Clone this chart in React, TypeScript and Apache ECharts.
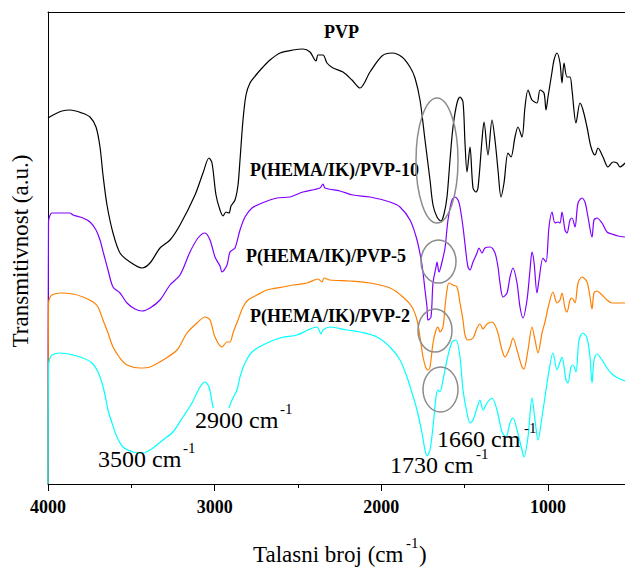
import React, { useEffect, useRef } from 'react';
import * as echarts from 'echarts';

const FONT = 'Liberation Serif, Times New Roman, Times, serif';

const xMajorTicks = [4000, 3000, 2000, 1000];
const xMinorTicks = [3500, 2500, 1500];
const seriesNames = ['PVP', 'P(HEMA/IK)/PVP-10', 'P(HEMA/IK)/PVP-5', 'P(HEMA/IK)/PVP-2'];
const seriesColors = ['#000000', '#8000ff', '#ff8000', '#00ffff'];

// [wavenumber (cm-1), transmittance (a.u.)]
const pvp: [number, number][] = [
  [4000, 366], [3958, 370], [3916, 373], [3868, 374], [3796, 371], [3748, 367], [3712, 357],
  [3688, 337], [3670, 309], [3646, 279], [3610, 251], [3568, 231], [3508, 222], [3436, 216],
  [3388, 221], [3328, 236], [3268, 244], [3208, 259], [3118, 289], [3070, 311], [3034, 326],
  [3016, 321], [2992, 289], [2968, 274], [2950, 268], [2932, 272], [2914, 271], [2902, 278],
  [2878, 284], [2860, 299], [2848, 324], [2830, 364], [2812, 389], [2788, 401], [2752, 409],
  [2710, 417], [2668, 424], [2608, 431], [2530, 434], [2470, 435], [2428, 432], [2392, 423],
  [2380, 429], [2350, 429], [2326, 421], [2290, 416], [2230, 412], [2176, 404], [2128, 396],
  [2068, 412], [1996, 428], [1936, 431], [1876, 427], [1828, 417], [1798, 406], [1768, 384],
  [1738, 344], [1708, 304], [1690, 279], [1666, 267], [1642, 263], [1624, 270], [1606, 287],
  [1588, 324], [1570, 357], [1546, 381], [1528, 387], [1510, 382], [1498, 341], [1486, 312],
  [1468, 337], [1450, 296], [1432, 292], [1420, 296], [1396, 344], [1384, 362], [1360, 329],
  [1336, 364], [1318, 344], [1300, 314], [1282, 287], [1264, 301], [1240, 331], [1222, 327],
  [1198, 347], [1180, 357], [1156, 347], [1138, 377], [1120, 394], [1096, 384], [1066, 381],
  [1048, 394], [1024, 391], [1012, 374], [1000, 387], [976, 412], [964, 424], [946, 431],
  [928, 421], [916, 401], [904, 421], [886, 407], [868, 407], [856, 394], [832, 361],
  [808, 381], [790, 374], [766, 357], [742, 337], [718, 329], [700, 336], [670, 327],
  [640, 317], [610, 322], [586, 321], [568, 317], [538, 321],
];

const pvp10: [number, number][] = [
  [4000, 0], [3997, 262], [3990, 268], [3976, 271], [3928, 271], [3868, 271], [3850, 269],
  [3790, 266], [3748, 262], [3712, 254], [3688, 244], [3664, 229], [3640, 214], [3610, 197],
  [3568, 191], [3526, 181], [3478, 175], [3436, 173], [3388, 176], [3328, 184], [3268, 199],
  [3208, 209], [3148, 232], [3100, 246], [3058, 251], [3028, 244], [2998, 227], [2968, 218],
  [2956, 212], [2926, 219], [2908, 232], [2878, 236], [2848, 254], [2818, 267], [2776, 276],
  [2716, 281], [2626, 286], [2548, 287], [2470, 292], [2368, 296], [2350, 300], [2338, 296],
  [2248, 293], [2170, 289], [2068, 287], [1948, 282], [1888, 277], [1828, 264], [1786, 244],
  [1756, 219], [1738, 194], [1726, 177], [1720, 164], [1702, 167], [1690, 201], [1672, 217],
  [1666, 222], [1654, 212], [1636, 222], [1618, 236], [1600, 264], [1576, 284], [1558, 287],
  [1540, 284], [1528, 277], [1510, 257], [1492, 231], [1480, 217], [1468, 214], [1450, 222],
  [1426, 231], [1414, 236], [1396, 231], [1378, 236], [1348, 237], [1318, 231], [1300, 217],
  [1288, 201], [1270, 187], [1246, 191], [1228, 207], [1210, 216], [1186, 201], [1168, 177],
  [1150, 166], [1126, 184], [1108, 214], [1096, 232], [1084, 222], [1066, 191], [1054, 204],
  [1030, 226], [1012, 222], [994, 257], [976, 272], [958, 261], [940, 262], [928, 261],
  [916, 272], [898, 254], [886, 251], [868, 264], [856, 266], [838, 257], [820, 281],
  [796, 286], [778, 282], [760, 267], [736, 247], [724, 264], [706, 266], [676, 261],
  [646, 252], [616, 250], [580, 248], [538, 247],
];

const pvp5: [number, number][] = [
  [4000, 0], [3997, 180], [3990, 186], [3976, 189], [3928, 191], [3850, 190], [3790, 187],
  [3730, 182], [3700, 177], [3670, 164], [3640, 151], [3610, 137], [3568, 126], [3526, 119],
  [3448, 116], [3388, 117], [3310, 124], [3226, 134], [3166, 151], [3106, 161], [3058, 167],
  [3028, 164], [2998, 147], [2956, 137], [2926, 142], [2908, 142], [2890, 151], [2860, 164],
  [2830, 177], [2800, 184], [2746, 189], [2686, 194], [2590, 197], [2530, 199], [2446, 201],
  [2380, 205], [2356, 202], [2344, 206], [2308, 204], [2188, 203], [2068, 201], [1948, 196],
  [1870, 187], [1816, 177], [1786, 164], [1768, 147], [1750, 127], [1732, 116], [1720, 114],
  [1708, 117], [1690, 141], [1672, 154], [1660, 157], [1648, 152], [1630, 157], [1618, 177],
  [1606, 194], [1594, 201], [1570, 199], [1546, 197], [1528, 181], [1510, 164], [1498, 149],
  [1480, 144], [1450, 146], [1426, 156], [1408, 160], [1390, 155], [1366, 160], [1336, 162],
  [1306, 154], [1276, 134], [1258, 127], [1228, 137], [1210, 146], [1186, 134], [1156, 117],
  [1144, 115], [1120, 134], [1096, 157], [1078, 144], [1060, 131], [1036, 151], [1018, 162],
  [1000, 176], [970, 192], [946, 181], [928, 184], [916, 191], [898, 176], [886, 172],
  [868, 184], [856, 186], [838, 181], [820, 201], [796, 207], [766, 202], [748, 187],
  [736, 175], [724, 191], [706, 193], [676, 189], [646, 184], [616, 181], [580, 181],
  [538, 181],
];

const pvp2: [number, number][] = [
  [4000, 0], [3997, 118], [3990, 125], [3976, 129], [3928, 131], [3850, 129], [3790, 126],
  [3736, 121], [3700, 112], [3676, 101], [3658, 89], [3640, 74], [3616, 61], [3586, 47],
  [3550, 37], [3490, 32], [3430, 31], [3370, 36], [3310, 44], [3250, 52], [3190, 67],
  [3136, 81], [3088, 97], [3058, 102], [3034, 97], [3010, 77], [2986, 64], [2956, 59],
  [2926, 71], [2896, 84], [2866, 94], [2848, 107], [2818, 121], [2776, 132], [2710, 139],
  [2608, 146], [2506, 149], [2440, 154], [2386, 157], [2362, 150], [2350, 154], [2308, 157],
  [2206, 154], [2128, 152], [2026, 147], [1948, 137], [1888, 124], [1846, 107], [1816, 91],
  [1786, 74], [1756, 51], [1738, 34], [1726, 28], [1708, 34], [1690, 57], [1672, 87],
  [1660, 94], [1648, 92], [1630, 104], [1606, 124], [1576, 142], [1552, 144], [1528, 127],
  [1510, 94], [1486, 71], [1468, 61], [1450, 64], [1426, 76], [1408, 84], [1390, 74],
  [1366, 81], [1336, 86], [1306, 74], [1276, 52], [1252, 47], [1228, 61], [1210, 66],
  [1186, 54], [1156, 34], [1144, 27], [1120, 47], [1096, 86], [1078, 64], [1060, 44],
  [1036, 67], [1018, 87], [1000, 107], [970, 131], [946, 114], [928, 122], [916, 127],
  [892, 104], [880, 101], [862, 117], [850, 119], [832, 112], [814, 144], [790, 151],
  [766, 146], [748, 127], [736, 101], [724, 124], [706, 130], [676, 124], [646, 116],
  [616, 110], [580, 106], [538, 103],
];

const seriesData = [pvp, pvp10, pvp5, pvp2];

export default function App() {
  const ref = useRef<HTMLDivElement>(null);
  useEffect(() => {
    if (!ref.current) return;
    const chart = echarts.init(ref.current, undefined, { renderer: 'svg' });
    const txt = (text: string, x: number, y: number, size: number, bold = false, extra: any = {}) => ({
      type: 'text',
      x,
      y,
      z: 100,
      style: {
        text,
        fill: '#000',
        fontFamily: FONT,
        fontSize: size,
        fontWeight: bold ? 'bold' : 'normal',
        align: 'left',
        verticalAlign: 'middle',
        textAlign: 'left',
        textVerticalAlign: 'middle',
        ...extra,
      },
    });
    const ell = (cx: number, cy: number, rx: number, ry: number) => ({
      type: 'ellipse',
      z: 100,
      shape: { cx, cy, rx, ry },
      style: { fill: 'none', stroke: '#8c8c8c', lineWidth: 1.5 },
    });
    const option: any = {
      animation: false,
      grid: { left: 48, right: 0, top: 12, bottom: 84, containLabel: false },
      xAxis: [
        {
          type: 'value',
          position: 'bottom',
          inverse: true,
          min: 538,
          max: 4000,
          axisLine: { show: true, lineStyle: { color: '#000', width: 1 } },
          axisTick: { show: true, inside: false, length: 7, customValues: xMajorTicks, lineStyle: { color: '#000' } },
          axisLabel: {
            show: true,
            customValues: xMajorTicks,
            formatter: (v: number) => String(Math.round(v)),
            color: '#000',
            fontWeight: 'bold',
            fontSize: 18,
            fontFamily: FONT,
            margin: 14,
          },
          splitLine: { show: false },
        },
        {
          type: 'value',
          position: 'bottom',
          inverse: true,
          min: 538,
          max: 4000,
          axisLine: { show: false },
          axisTick: { show: true, inside: false, length: 4, customValues: xMinorTicks, lineStyle: { color: '#000' } },
          axisLabel: { show: false },
          splitLine: { show: false },
        },
        {
          type: 'value',
          position: 'top',
          inverse: true,
          min: 538,
          max: 4000,
          axisLine: { show: true, lineStyle: { color: '#000', width: 1 } },
          axisTick: { show: false },
          axisLabel: { show: false },
          splitLine: { show: false },
        },
      ],
      yAxis: {
        type: 'value',
        min: 0,
        max: 472,
        axisLine: { show: true, lineStyle: { color: '#000', width: 1 } },
        axisTick: { show: false },
        axisLabel: { show: false },
        splitLine: { show: false },
      },
      series: seriesData.map((d, i) => ({
        name: seriesNames[i],
        type: 'line',
        xAxisIndex: 0,
        data: d,
        showSymbol: false,
        symbol: 'none',
        smooth: 0.3,
        silent: true,
        z: 2 + i,
        lineStyle: { color: seriesColors[i], width: 1.2 },
      })),
      graphic: [
        txt('PVP', 324, 32, 18, true),
        txt('P(HEMA/IK)/PVP-10', 250, 170, 18, true),
        txt('P(HEMA/IK)/PVP-5', 246, 256, 18, true),
        txt('P(HEMA/IK)/PVP-2', 250, 316, 18, true),
        txt('3500 cm', 98, 459, 24),
        txt('-1', 183, 448, 15),
        txt('2900 cm', 195, 420, 24, false, { backgroundColor: '#fff' }),
        txt('-1', 280, 409, 15),
        txt('1730 cm', 390, 465, 24),
        txt('-1', 476, 454, 15),
        txt('1660 cm', 437, 439, 24),
        txt('-1', 524, 428, 15),
        txt('Talasni broj (cm', 253, 554, 23),
        txt('-1', 406, 543, 15),
        txt(')', 419, 554, 23),
        {
          type: 'text',
          x: 20,
          y: 251,
          rotation: Math.PI / 2,
          z: 100,
          style: {
            text: 'Transmitivnost (a.u.)',
            fill: '#000',
            fontFamily: FONT,
            fontSize: 23,
            fontWeight: 'normal',
            align: 'center',
            verticalAlign: 'middle',
            textAlign: 'center',
            textVerticalAlign: 'middle',
          },
        },
        ell(437, 160.5, 21, 62.5),
        ell(438.5, 261.5, 17.5, 21.5),
        ell(435, 330.5, 17, 21.5),
        ell(440.5, 389.5, 17.5, 22.5),
      ],
    };
    chart.setOption(option);
    return () => chart.dispose();
  }, []);
  return (
    <div
      ref={ref}
      style={{ position: 'fixed', left: 0, top: 0, width: 625, height: 568, background: '#fff' }}
    />
  );
}
